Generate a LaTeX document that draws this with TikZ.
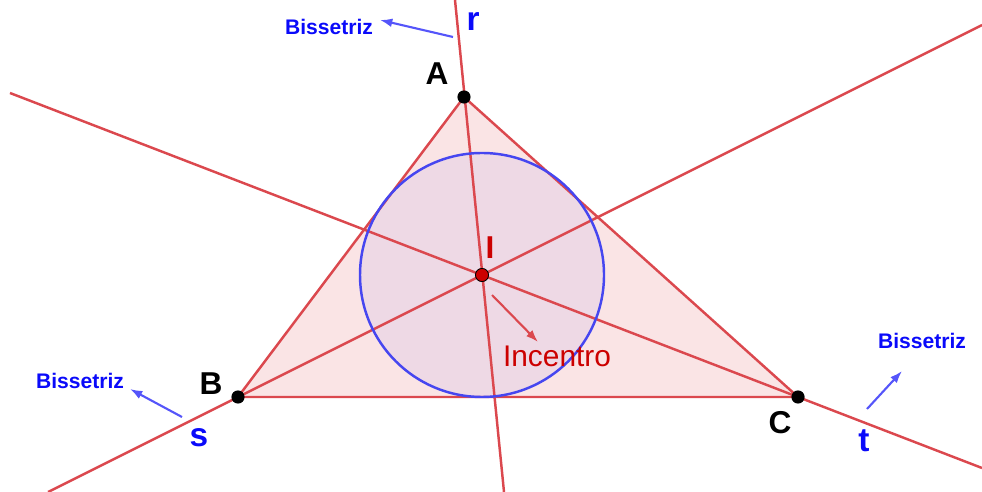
\documentclass[tikz,border=0pt]{standalone}
\usepackage{fontspec}
\setmainfont{Liberation Sans}
\usetikzlibrary{arrows.meta}
\definecolor{lnred}{RGB}{219,72,78}
\definecolor{trifill}{RGB}{250,228,229}
\definecolor{incfill}{RGB}{238,217,229}
\definecolor{circblue}{RGB}{70,70,240}
\definecolor{txblue}{RGB}{10,10,250}
\definecolor{arblue}{RGB}{85,85,250}
\definecolor{incred}{RGB}{204,0,0}

\begin{document}
\begin{tikzpicture}[x=0.02cm,y=-0.02cm,
  bis/.style={draw=lnred,line width=1.4pt},
  pt/.style={circle,fill=black,inner sep=0pt,minimum size=7.5pt},
  vtx/.style={font=\fontsize{18}{18}\selectfont\bfseries},
  lbl/.style={text=txblue,font=\fontsize{19}{19}\selectfont\bfseries},
  bt/.style={text=txblue,font=\fontsize{12}{12}\selectfont\bfseries},
  barr/.style={-{Latex[length=7pt,width=5pt]},draw=arblue,line width=1.2pt}]
\useasboundingbox (0,0) rectangle (982,492);
% vertices and incentre
\coordinate (A) at (464,97); \coordinate (B) at (238,397);
\coordinate (C) at (798,397); \coordinate (I) at (482,275);
% ends of the bisectors
\coordinate (r1) at (455,0); \coordinate (r2) at (504,492);
\coordinate (s1) at (48,492); \coordinate (s2) at (982,25);
\coordinate (t1) at (10,93); \coordinate (t2) at (982,468);
\fill[trifill] (A)--(B)--(C)--cycle;
\fill[incfill] (I) circle[radius=122];
\draw[bis] (r1)--(r2); \draw[bis] (s1)--(s2); \draw[bis] (t1)--(t2);
\draw[lnred,line width=1.4pt] (A)--(B)--(C)--cycle;
\draw[circblue,line width=1.4pt] (I) circle[radius=122];
\node[pt] (pA) at (A) {}; \node[pt] (pB) at (B) {}; \node[pt] (pC) at (C) {};
\node[pt,fill=incred,draw=black,line width=0.5pt] (pI) at (I) {};
\node[vtx] (lA) at (437,74) {A};
\node[vtx] (lB) at (211,384) {B};
\node[vtx] (lC) at (780,423) {C};
\node[text=incred,font=\fontsize{18}{18}\selectfont\bfseries] (lI) at (490,248) {I};
\node[text=incred,font=\fontsize{17}{17}\selectfont] (inc) at (557,356) {Incentro};
\node[lbl] (lr) at (473,22) {r};
\node[lbl] (ls) at (199,438) {s};
\node[lbl] (lt) at (864,441) {t};
\node[bt] (b1) at (329,27) {Bissetriz};
\node[bt] (b2) at (80,381) {Bissetriz};
\node[bt] (b3) at (922,341) {Bissetriz};
% little arrows
\coordinate (a1) at (453,37); \coordinate (e1) at (380,20);
\coordinate (a2) at (182,417); \coordinate (e2) at (130,389);
\coordinate (a3) at (867,409); \coordinate (e3) at (902,371);
\coordinate (a4) at (492,295); \coordinate (e4) at (538,342);
\draw[barr] (a1)--(e1); \draw[barr] (a2)--(e2); \draw[barr] (a3)--(e3);
\draw[barr,draw=lnred] (a4)--(e4);
\end{tikzpicture}
\end{document}
